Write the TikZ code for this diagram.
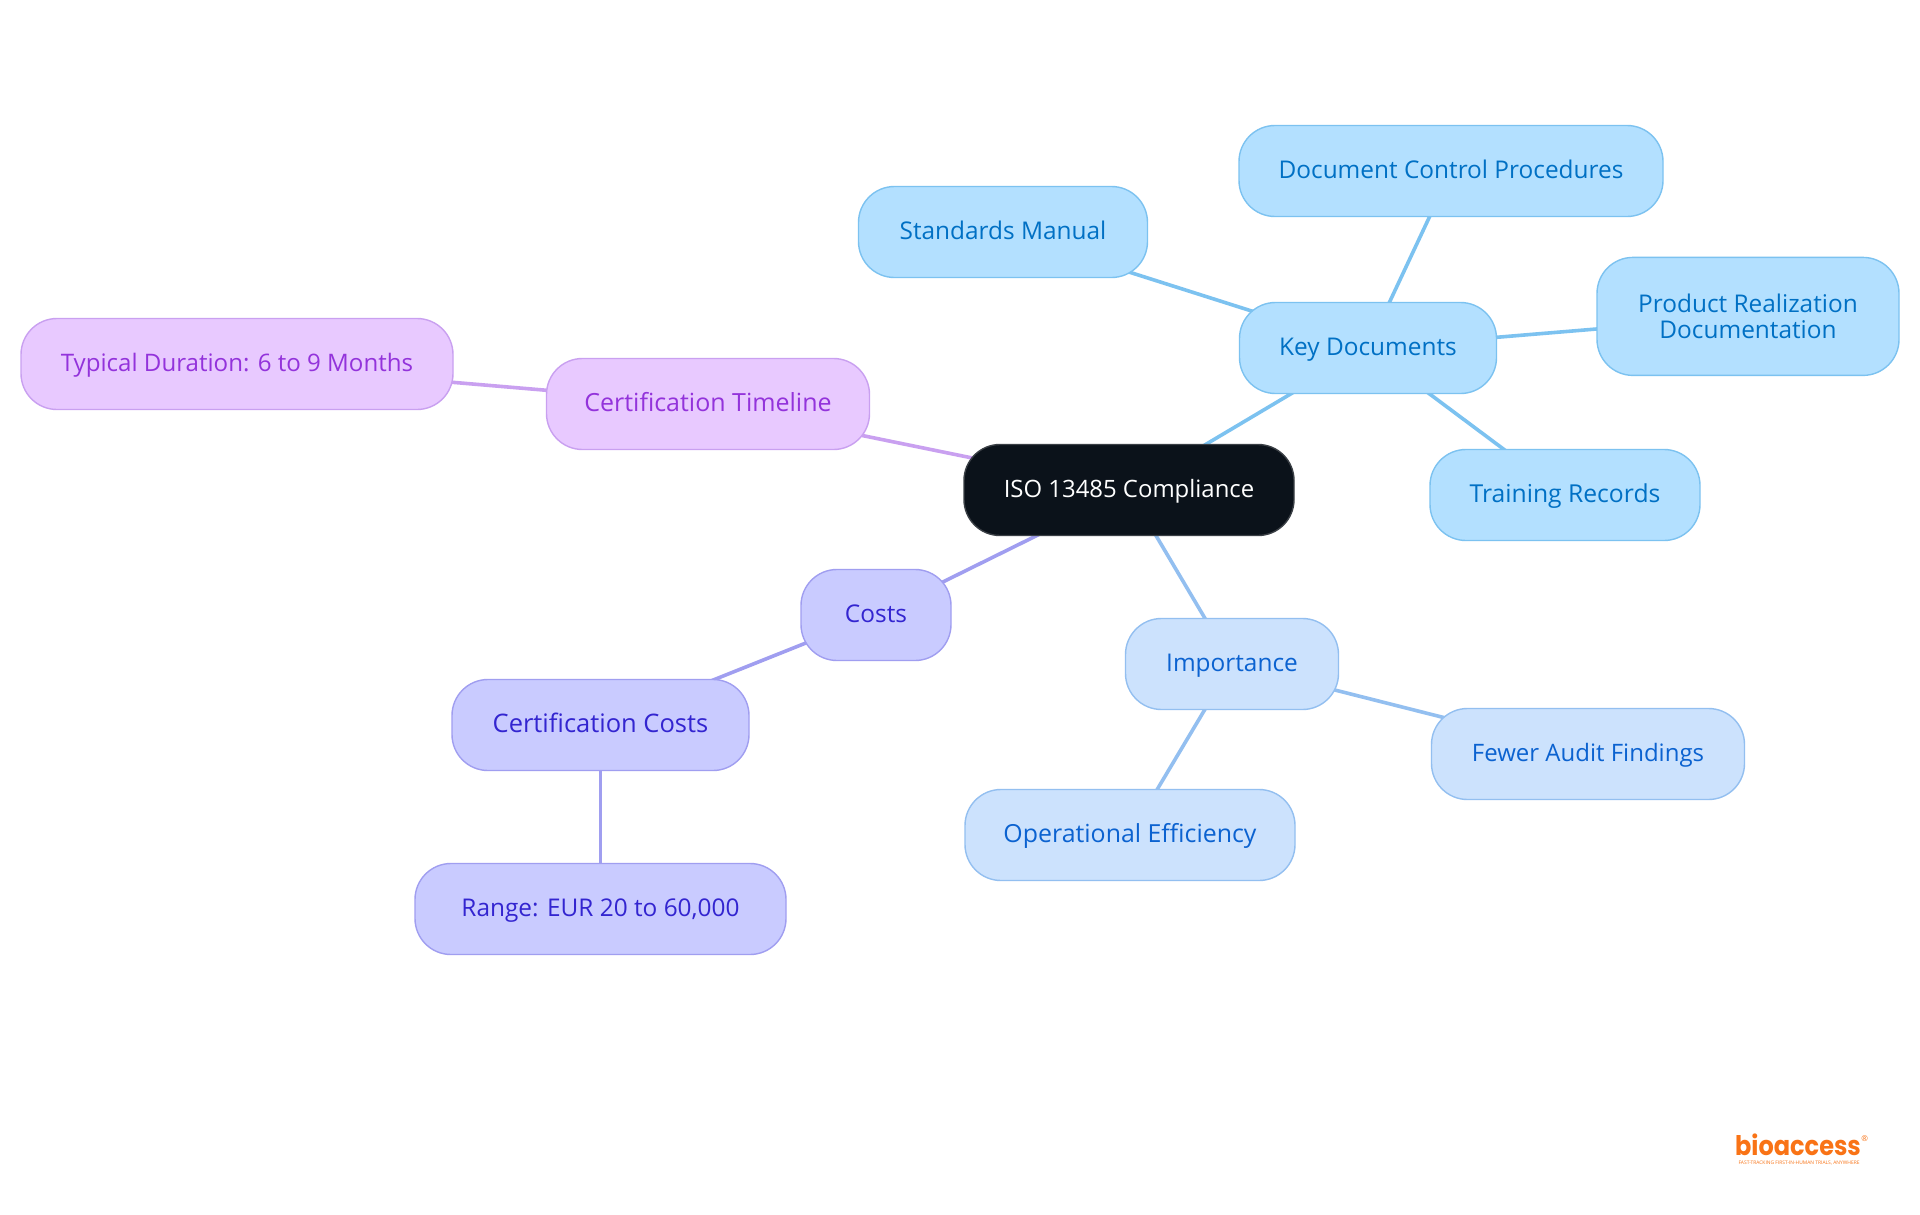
\documentclass[tikz,border=0pt]{standalone}
\usepackage{fontspec}
\setmainfont{Open Sans}
\newfontfamily\logofont{Poppins}
\usetikzlibrary{backgrounds}
\definecolor{blueF}{HTML}{B3E0FF}\definecolor{blueD}{HTML}{7CC2F0}\definecolor{blueT}{HTML}{0070C4}
\definecolor{skyF}{HTML}{CCE2FD}\definecolor{skyD}{HTML}{93BFF0}\definecolor{skyT}{HTML}{0B62D0}
\definecolor{indF}{HTML}{C9CBFF}\definecolor{indD}{HTML}{A09EF0}\definecolor{indT}{HTML}{3325D0}
\definecolor{purF}{HTML}{E8C9FF}\definecolor{purD}{HTML}{C9A0F0}\definecolor{purT}{HTML}{9333DB}
\definecolor{rootF}{HTML}{0B121A}\definecolor{rootD}{HTML}{3A3F45}\definecolor{logoC}{HTML}{F97316}
\tikzset{
 x=1pt,y=-1pt,
 box/.style={rectangle,rounded corners=36pt,line width=1.4pt,inner sep=0pt,minimum height=91pt,align=center,text height=20.5pt,text depth=5.5pt,font=\fontsize{24.4}{26}\selectfont},
 fs/.style={font=\fontsize{#1}{26}\selectfont},
 blueN/.style={box,draw=blueD,fill=blueF,text=blueT},
 skyN/.style={box,draw=skyD,fill=skyF,text=skyT},
 indN/.style={box,draw=indD,fill=indF,text=indT},
 purN/.style={box,draw=purD,fill=purF,text=purT},
 rootN/.style={box,draw=rootD,fill=rootF,text=white},
 link/.style={line width=3.6pt}
}
\begin{document}
\begin{tikzpicture}
\useasboundingbox (0,0) rectangle (1920,1215);
\node[rootN,fs=23.9,minimum width=330pt] (root) at (1129,490) {ISO 13485 Compliance};
\node[blueN,minimum width=257pt] (key) at (1368,348) {Key Documents};
\node[blueN,minimum width=424pt] (doc) at (1451,171) {Document Control Procedures};
\node[blueN,minimum width=289pt] (std) at (1003,232) {Standards Manual};
\node[blueN,minimum width=302pt,minimum height=118pt,text height=,text depth=] (prod) at (1748,316.4) {Product Realization\\Documentation};
\node[blueN,fs=24.7,minimum width=270pt] (train) at (1565,495) {Training Records};
\node[purN,fs=25,minimum width=323pt] (time) at (708,404) {Certification Timeline};
\node[purN,fs=24.1,minimum width=432pt] (dur) at (237,364) {Typical Duration: 6 to 9 Months};
\node[indN,minimum width=150pt] (costs) at (876,615) {Costs};
\node[indN,fs=25.5,minimum width=297pt] (ccost) at (600.5,725) {Certification Costs};
\node[indN,minimum width=371pt] (range) at (600.5,909) {Range: EUR 20 to 60,000};
\node[skyN,minimum width=213pt] (imp) at (1232,664) {Importance};
\node[skyN,fs=24,minimum width=313pt] (few) at (1588,754) {Fewer Audit Findings};
\node[skyN,fs=24.9,minimum width=330pt] (oper) at (1130,835) {Operational Efficiency};
\begin{scope}[on background layer]
\fill[white] (0,0) rectangle (1920,1215);
\draw[link,blueD] (root.center) -- (key.center);
\draw[link,blueD] (key.center) -- (doc.center);
\draw[link,blueD] (key.center) -- (std.center);
\draw[link,blueD] (key.center) -- (prod.center);
\draw[link,blueD] (key.center) -- (train.center);
\draw[link,purD] (root.center) -- (time.center);
\draw[link,purD] (time.center) -- (dur.center);
\draw[link,indD] (root.center) -- (costs.center);
\draw[link,indD] (costs.center) -- (ccost.center);
\draw[link,indD] (ccost.center) -- (range.center);
\draw[link,skyD] (root.center) -- (imp.center);
\draw[link,skyD] (imp.center) -- (few.center);
\draw[link,skyD] (imp.center) -- (oper.center);
\end{scope}
\node[text=logoC,inner sep=0pt,xscale=.89,font=\logofont\fontsize{27}{27}\selectfont\bfseries] (logo) at (1798,1144.5) {bioaccess};
\node[text=logoC,inner sep=0pt,font=\fontsize{8}{8}\selectfont,anchor=west] (reg) at ([yshift=-5pt]logo.north east) {®};
\node[text=logoC,inner sep=0pt,font=\fontsize{4.9}{5}\selectfont] (tag) at (1799,1163.5) {FAST-TRACKING FIRST-IN-HUMAN TRIALS, ANYWHERE};
\end{tikzpicture}
\end{document}
